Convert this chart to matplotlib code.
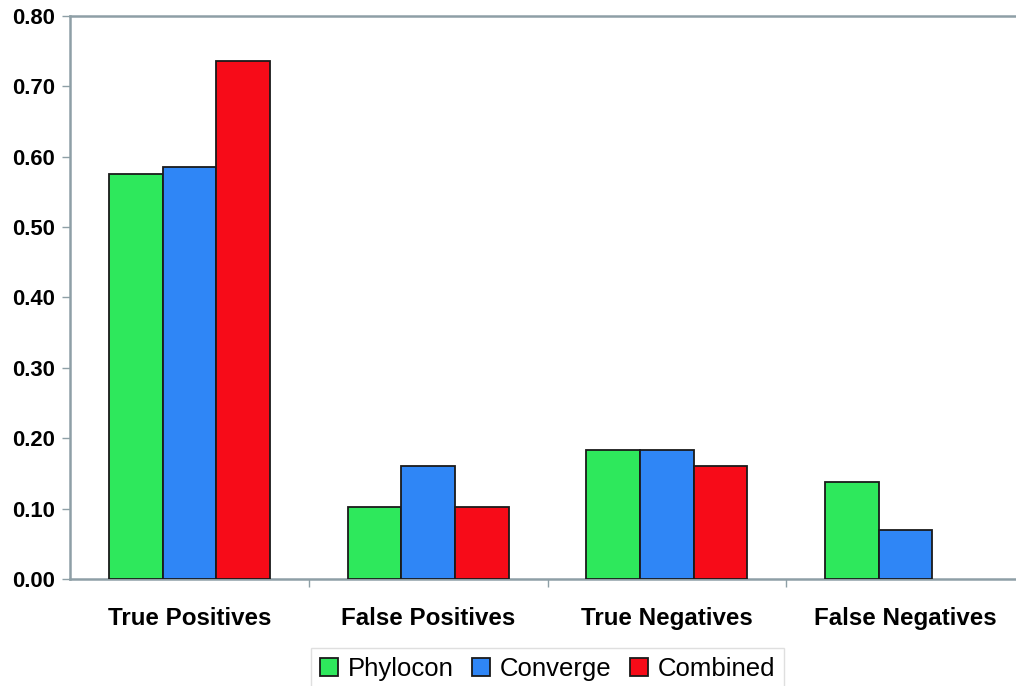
import matplotlib
matplotlib.use('Agg')
import matplotlib.pyplot as plt
import numpy as np

categories = ["True Positives", "False Positives", "True Negatives", "False Negatives"]
series_names = ["Phylocon", "Converge", "Combined"]
phylocon = [0.575, 0.103, 0.184, 0.138]
converge = [0.586, 0.161, 0.184, 0.069]
combined = [0.736, 0.103, 0.161, 0.0]
y_ticks = [0.0, 0.1, 0.2, 0.3, 0.4, 0.5, 0.6, 0.7, 0.8]

colors = ["#2EE85C", "#2F86F6", "#F70B18"]
edge = "#1a1a1a"
spine_col = "#8E9FA6"

plt.rcParams['font.family'] = ['Liberation Sans', 'DejaVu Sans']

fig = plt.figure(figsize=(10.16, 6.86), dpi=100, facecolor='white')
ax = fig.add_axes([70 / 1016, 107 / 686, 955 / 1016, 563 / 686])

x = np.arange(len(categories))
w = 0.225
for i, (vals, name) in enumerate(zip([phylocon, converge, combined], series_names)):
    # zero-height bars get no outline, so nothing is drawn for them
    lws = [1.3 if v > 0 else 0 for v in vals]
    ax.bar(x + (i - 1) * w, vals, width=w, color=colors[i], edgecolor=edge,
           linewidth=lws, label=name, zorder=3)

ax.set_xlim(-0.5, 3.5)
ax.set_ylim(0, 0.8)
ax.set_yticks(y_ticks)
ax.set_yticklabels([f"{v:.2f}" for v in y_ticks], fontsize=15.8, fontweight='bold')
ax.set_xticks(x)
ax.set_xticklabels(categories, fontsize=17.4, fontweight='bold')
ax.tick_params(axis='x', which='major', length=0, pad=20)
ax.set_xticks([0.5, 1.5, 2.5], minor=True)
ax.tick_params(axis='x', which='minor', length=6, color=spine_col, width=1)
ax.tick_params(axis='y', length=6, color=spine_col, width=1, pad=5)

for side in ['left', 'bottom', 'top']:
    ax.spines[side].set_color(spine_col)
    ax.spines[side].set_linewidth(1.8)
ax.spines['right'].set_visible(False)

leg = fig.legend(loc='upper center', bbox_to_anchor=(547.5 / 1016, 1 - 648 / 686), ncol=3,
                 fontsize=18.5, frameon=True, fancybox=False, handlelength=0.7,
                 handleheight=0.7, handletextpad=0.4, columnspacing=0.7,
                 borderpad=0.35, borderaxespad=0)
leg.get_frame().set_edgecolor('#d8d8d8')
leg.get_frame().set_linewidth(1.0)
for h in leg.legend_handles:
    h.set_linewidth(1.3)

fig.savefig("out.png", dpi=100, facecolor='white')
